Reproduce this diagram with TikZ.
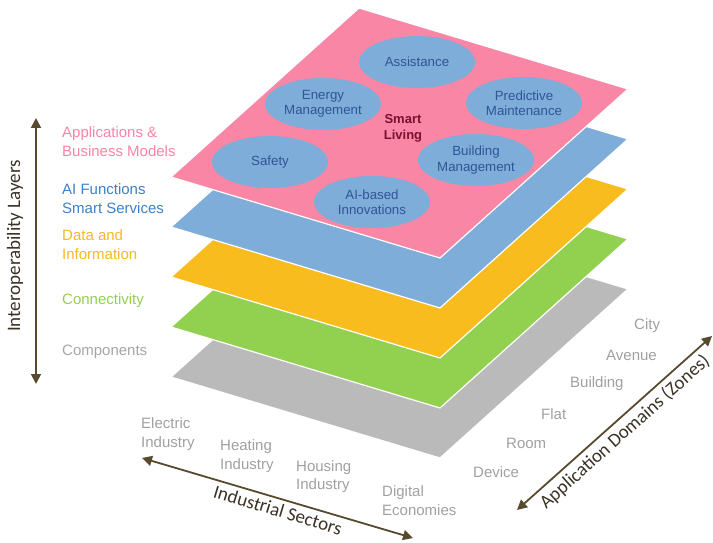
\documentclass[tikz,border=0pt]{standalone}
\usepackage{fontspec}
\setmainfont{Liberation Sans}
\newfontfamily\calib{Carlito}
\usetikzlibrary{arrows.meta,shapes.geometric}
\definecolor{pinkL}{HTML}{F986A5}
\definecolor{blueL}{HTML}{7FADD9}
\definecolor{yellowL}{HTML}{F9BC1F}
\definecolor{greenL}{HTML}{92D050}
\definecolor{grayL}{HTML}{BABABA}
\definecolor{ellText}{HTML}{2F5597}
\definecolor{smartC}{HTML}{7A1030}
\definecolor{axisC}{HTML}{584A2E}
\definecolor{axisT}{HTML}{3A3226}
\definecolor{lblPink}{HTML}{F984A5}
\definecolor{lblBlue}{HTML}{3F80C4}
\definecolor{lblYellow}{HTML}{F7B821}
\definecolor{lblGreen}{HTML}{92D050}
\definecolor{lblGray}{HTML}{A6A6A6}
\definecolor{zoneGray}{HTML}{A0A0A0}
\newcommand\layerplane[2]{%
  \fill[#1, draw=white, line width=1.2pt] (171,{177+#2}) -- ++(269,81) -- ++(188,-169) -- ++(-269,-81) -- cycle;}
\tikzset{
  ell/.style={ellipse, fill=blueL, minimum width=116pt, minimum height=52pt, inner sep=0pt,
    font=\fontsize{13.3}{15.5}\selectfont, text=ellText, align=center},
  sidelbl/.style={anchor=west, inner sep=0pt, align=left, font=\fontsize{15}{19}\selectfont},
  zonelbl/.style={anchor=west, inner sep=0pt, align=left, text=zoneGray, font=\fontsize{15}{18.5}\selectfont},
  axisarrow/.style={draw=axisC, line width=1.8pt, {Triangle[width=10pt,length=10pt]}-{Triangle[width=10pt,length=10pt]}},
  axislbl/.style={text=axisT, inner sep=0pt, font=\calib\fontsize{19}{22}\selectfont}
}
\begin{document}
\begin{tikzpicture}[x=1pt,y=-1pt]
\useasboundingbox (0,0) rectangle (713,543);
% layers
\layerplane{grayL}{200}
\layerplane{greenL}{150}
\layerplane{yellowL}{100}
\layerplane{blueL}{50}
\layerplane{pinkL}{0}
% ellipses
\node[ell] (assist) at (417,62) {Assistance};
\node[ell] (energy) at (323,104) {Energy\\Management};
\node[ell] (predict) at (524,103) {Predictive\\Maintenance};
\node[ell] (safety) at (270,162) {Safety};
\node[ell] (building) at (476,160) {Building\\Management};
\node[ell] (aibased) at (372,202) {AI-based\\Innovations};
\node[align=center, text=smartC, font=\bfseries\fontsize{13}{16}\selectfont] (smart) at (403,128) {Smart\\Living};
% left labels
\node[sidelbl, text=lblPink] (app) at (62,142) {Applications \&\\Business Models};
\node[sidelbl, text=lblBlue] (ai) at (62,198.5) {AI Functions\\Smart Services};
\node[sidelbl, text=lblYellow] (data) at (62,245) {Data and\\Information};
\node[sidelbl, text=lblGreen] (conn) at (62,301) {Connectivity};
\node[sidelbl, text=lblGray] (comp) at (62,352) {Components};
% industrial sectors labels
\node[zonelbl] (elec) at (141,434) {Electric\\Industry};
\node[zonelbl] (heat) at (220,456) {Heating\\Industry};
\node[zonelbl] (hous) at (296,476.5) {Housing\\Industry};
\node[zonelbl] (digi) at (382,500.5) {Digital\\Economies};
% zones labels
\node[zonelbl] (device) at (473,472) {Device};
\node[zonelbl] (room) at (506,443) {Room};
\node[zonelbl] (flat) at (541,414) {Flat};
\node[zonelbl] (bldg) at (570,384) {Building};
\node[zonelbl] (avenue) at (606,355) {Avenue};
\node[zonelbl] (city) at (634,326) {City};
% axes
\coordinate (vt) at (36,118);
\coordinate (vb) at (36,384);
\draw[axisarrow] (vb) -- (vt);
\coordinate (sl) at (142,458);
\coordinate (sr) at (413,538);
\draw[axisarrow] (sl) -- (sr);
\coordinate (zl) at (517,510);
\coordinate (zr) at (712,336);
\draw[axisarrow] (zl) -- (zr);
\node[axislbl, rotate=90] (il) at (15,246) {Interoperability Layers};
\node[axislbl, rotate=-16.8] (is) at (278,510) {Industrial Sectors};
\node[axislbl, rotate=41.8] (ad) at (625,432) {Application Domains (Zones)};
\end{tikzpicture}
\end{document}
